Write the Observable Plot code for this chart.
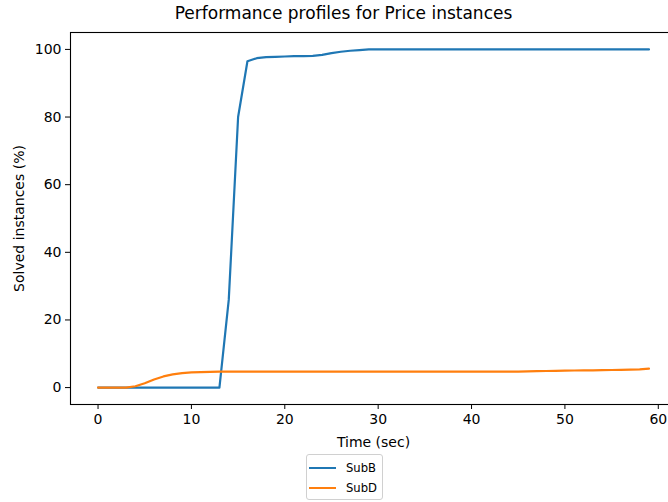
<!DOCTYPE html>
<html>
<head>
<meta charset="utf-8">
<script src="https://cdn.jsdelivr.net/npm/d3@7"></script>
<script src="https://cdn.jsdelivr.net/npm/@observablehq/plot@0.6"></script>
<style>
  html, body { margin: 0; padding: 0; background: white; }
  body { width: 668px; height: 502px; overflow: hidden; font-family: "DejaVu Sans", sans-serif; color: black; }
  #title { box-sizing: border-box; width: 668px; height: 28px; padding-top: 3px; padding-left: 19px; text-align: center; font-size: 17px; line-height: normal; white-space: nowrap; }
  #chart { width: 680px; height: 424px; }
  #chart svg { display: block; overflow: visible; max-width: none !important; }
  #legend { box-sizing: border-box; margin-top: 2px; margin-left: 306px; width: 77px; height: 46px; border: 1px solid #d0d0d0; border-radius: 3px; padding: 3px 0 0 2px; font-size: 11.6px; }
  .row { display: flex; align-items: center; height: 20px; line-height: 20px; }
  .swatch { width: 27px; height: 0; border-top: 2.2px solid; margin-right: 10px; }
</style>
</head>
<body>
<div id="title">Performance profiles for Price instances</div>
<div id="chart"></div>
<div id="legend"></div>
<script>
const time = [0,1,2,3,4,5,6,7,8,9,10,11,12,13,14,15,16,17,18,19,20,21,22,23,24,25,26,27,28,29,30,31,32,33,34,35,36,37,38,39,40,41,42,43,44,45,46,47,48,49,50,51,52,53,54,55,56,57,58,59];
const subB = [0,0,0,0,0,0,0,0,0,0,0,0,0,0,26,80,96.5,97.4,97.7,97.8,97.9,98.0,98.0,98.1,98.4,98.9,99.3,99.6,99.8,100,100,100,100,100,100,100,100,100,100,100,100,100,100,100,100,100,100,100,100,100,100,100,100,100,100,100,100,100,100,100];
const subD = [0,0,0,0,0.4,1.3,2.4,3.3,3.9,4.3,4.5,4.6,4.65,4.7,4.7,4.7,4.7,4.7,4.7,4.7,4.7,4.7,4.7,4.7,4.7,4.7,4.7,4.7,4.7,4.7,4.7,4.7,4.7,4.7,4.7,4.7,4.7,4.7,4.7,4.7,4.7,4.7,4.7,4.7,4.7,4.75,4.8,4.85,4.9,4.95,5.0,5.05,5.1,5.1,5.15,5.2,5.25,5.3,5.4,5.6];
const seriesNames = ["SubB", "SubD"];
const seriesColors = ["#1f77b4", "#ff7f0e"];
const xTicks = [0,10,20,30,40,50,60];
const yTicks = [0,20,40,60,80,100];

const rows = [];
time.forEach((t, i) => {
  rows.push({time: t, value: subB[i], series: seriesNames[0]});
});
time.forEach((t, i) => {
  rows.push({time: t, value: subD[i], series: seriesNames[1]});
});

const chart = Plot.plot({
  width: 680,
  height: 424,
  marginTop: 4,
  marginBottom: 48,
  marginLeft: 70,
  marginRight: 4,
  style: {fontFamily: "DejaVu Sans", fontSize: "14px", color: "black", background: "white", overflow: "visible", maxWidth: "none"},
  x: {domain: [-2.95, 61.95], nice: false},
  y: {domain: [-5, 105], nice: false},
  color: {domain: seriesNames, range: seriesColors},
  marks: [
    Plot.line(rows, {x: "time", y: "value", z: "series", stroke: "series", strokeWidth: 2.2}),
    Plot.frame({stroke: "black", strokeWidth: 1.1}),
    Plot.axisX({ticks: xTicks, tickSize: 5, tickPadding: 5, fontSize: 14, label: "Time (sec)", labelAnchor: "center", labelArrow: "none", labelOffset: 42}),
    Plot.axisY({ticks: yTicks, tickSize: 5, tickPadding: 4, fontSize: 14, label: "Solved instances (%)", labelAnchor: "center", labelArrow: "none", labelOffset: 56})
  ]
});
document.getElementById("chart").appendChild(chart);

const legend = document.getElementById("legend");
seriesNames.forEach((name, i) => {
  const row = document.createElement("div");
  row.className = "row";
  const sw = document.createElement("span");
  sw.className = "swatch";
  sw.style.borderTopColor = seriesColors[i];
  const label = document.createElement("span");
  label.textContent = name;
  row.appendChild(sw);
  row.appendChild(label);
  legend.appendChild(row);
});
</script>
</body>
</html>
